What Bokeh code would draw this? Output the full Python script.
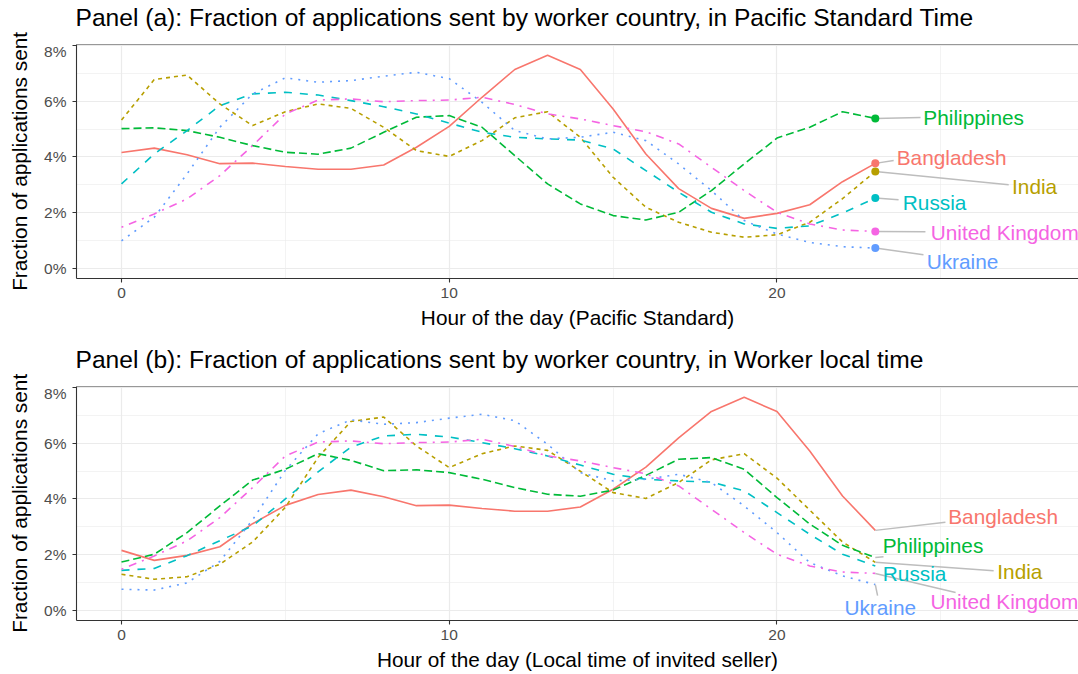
import math
from bokeh.plotting import figure
from bokeh.models import ColumnDataSource, Range1d, FixedTicker, PrintfTickFormatter, Span, Label
from bokeh.layouts import column, row
from bokeh.core.properties import value
from bokeh.embed import file_html
from bokeh.resources import INLINE

# ---------------- data ----------------
hours = list(range(24))
countries = ["Bangladesh", "India", "Philippines", "Russia", "Ukraine", "United Kingdom"]

# Panel (a): Pacific Standard Time (percent of applications)
bangladesh_pst = [4.16, 4.32, 4.08, 3.76, 3.78, 3.66, 3.56, 3.56, 3.71, 4.35, 5.10, 6.15,
                  7.15, 7.66, 7.15, 5.73, 4.11, 2.86, 2.15, 1.79, 1.97, 2.28, 3.11, 3.77]
india_pst = [5.33, 6.79, 6.95, 5.91, 5.13, 5.63, 5.91, 5.75, 5.07, 4.23, 4.02, 4.59,
             5.41, 5.63, 4.71, 3.27, 2.19, 1.65, 1.29, 1.11, 1.20, 1.65, 2.50, 3.48]
philippines_pst = [5.02, 5.05, 4.95, 4.71, 4.41, 4.17, 4.10, 4.32, 4.89, 5.43, 5.49, 5.07,
                   4.05, 3.03, 2.31, 1.89, 1.73, 2.01, 2.79, 3.75, 4.68, 5.07, 5.63, 5.39]
russia_pst = [3.03, 4.11, 4.95, 5.85, 6.27, 6.33, 6.23, 6.03, 5.81, 5.55, 5.22, 4.89,
              4.71, 4.65, 4.61, 4.29, 3.51, 2.73, 2.01, 1.59, 1.43, 1.52, 1.98, 2.52]
ukraine_pst = [0.98, 1.83, 3.39, 5.07, 6.27, 6.85, 6.69, 6.75, 6.91, 7.05, 6.82, 5.97,
               4.95, 4.65, 4.71, 4.89, 4.59, 3.75, 2.79, 1.71, 1.23, 0.92, 0.77, 0.72]
uk_pst = [1.47, 1.95, 2.49, 3.33, 4.41, 5.55, 6.05, 6.09, 5.99, 6.03, 6.05, 6.15,
          5.89, 5.55, 5.37, 5.13, 4.91, 4.47, 3.63, 2.79, 2.01, 1.59, 1.37, 1.32]

# Panel (b): worker local time (percent of applications)
bangladesh_local = [2.15, 1.79, 1.97, 2.28, 3.11, 3.77, 4.16, 4.32, 4.08, 3.76, 3.78, 3.66,
                    3.56, 3.56, 3.71, 4.35, 5.15, 6.20, 7.15, 7.66, 7.15, 5.73, 4.11, 2.87]
india_local = [1.29, 1.11, 1.20, 1.65, 2.45, 3.70, 5.50, 6.79, 6.95, 5.91, 5.13, 5.63,
               5.91, 5.75, 5.00, 4.23, 4.02, 4.59, 5.41, 5.63, 4.75, 3.60, 2.45, 1.72]
philippines_local = [1.73, 2.01, 2.79, 3.75, 4.68, 5.07, 5.63, 5.39, 5.02, 5.05, 4.95, 4.71,
                     4.41, 4.17, 4.10, 4.32, 4.85, 5.43, 5.49, 5.07, 4.05, 3.10, 2.33, 1.89]
russia_local = [1.43, 1.50, 1.96, 2.50, 3.03, 4.00, 4.98, 5.87, 6.27, 6.33, 6.23, 6.03,
                5.81, 5.55, 5.22, 4.89, 4.71, 4.65, 4.61, 4.29, 3.51, 2.73, 2.01, 1.59]
ukraine_local = [0.75, 0.72, 0.98, 1.75, 3.25, 5.03, 6.35, 6.85, 6.69, 6.75, 6.91, 7.05,
                 6.82, 5.97, 4.95, 4.65, 4.71, 4.89, 4.59, 3.75, 2.79, 1.71, 1.23, 0.92]
uk_local = [1.47, 1.95, 2.49, 3.33, 4.41, 5.55, 6.05, 6.09, 5.99, 6.03, 6.05, 6.15,
            5.89, 5.55, 5.37, 5.13, 4.91, 4.47, 3.63, 2.79, 2.01, 1.59, 1.37, 1.32]

x_ticks = [0, 10, 20]
y_ticks = [0, 2, 4, 6, 8]

# ---------------- styles / layout ----------------
colors = ["#F8766D", "#B79F00", "#00BA38", "#00BFC4", "#619CFF", "#F564E3"]
dashes = ["solid", "4 4", "8 4", "8 8", "2 6", "2 6 8 6"]
FONT = "Liberation Sans"
X0, X1 = -1.373, 29.2
Y0, Y1 = -0.375, 8.05
TOTAL_W, TOTAL_H = 1078, 674
YLAB_W = 36
W = TOTAL_W - YLAB_W
YLABEL = "Fraction of applications sent"

# label placements (centre x, centre y) and leader-line end points
labels_a = {
    "Bangladesh": (25.33, 3.99, 23.56, 3.87),
    "India": (27.86, 2.93, 27.07, 3.00),
    "Philippines": (26.00, 5.43, 24.38, 5.42),
    "Russia": (24.81, 2.35, 23.71, 2.46),
    "Ukraine": (25.66, 0.24, 24.47, 0.48),
    "United Kingdom": (26.95, 1.28, 24.53, 1.31),
}
labels_b = {
    "Bangladesh": (26.90, 3.36, 25.14, 3.16),
    "India": (27.41, 1.39, 26.61, 1.42),
    "Philippines": (24.76, 2.32, 23.25, 1.92),
    "Russia": (24.20, 1.31, None, None),
    "Ukraine": (23.15, 0.09, 23.07, 0.52),
    "United Kingdom": (26.94, 0.31, 25.45, 0.63),
}


def blank_figure(width, height):
    f = figure(width=width, height=height, output_backend="svg", toolbar_location=None,
               x_range=Range1d(0, width), y_range=Range1d(0, height),
               x_axis_type=None, y_axis_type=None,
               min_border_left=0, min_border_right=0, min_border_top=0, min_border_bottom=0,
               background_fill_color="white", border_fill_color="white",
               outline_line_color=None, frame_align=False)
    f.grid.visible = False
    return f


def make_title(text, height, y_mid_from_bottom):
    t = blank_figure(W, height)
    t.add_layout(Label(x=75 - YLAB_W, y=y_mid_from_bottom, text=text, text_font=FONT,
                       text_font_size="24.6px", text_color="black",
                       text_baseline="middle", text_align="left"))
    return t


def make_ylabels(centres_from_top):
    f = blank_figure(YLAB_W, TOTAL_H)
    for c in centres_from_top:
        f.add_layout(Label(x=19, y=TOTAL_H - c, text=YLABEL, text_font=FONT,
                           text_font_size="20.8px", text_color="black", angle=math.pi / 2,
                           text_baseline="middle", text_align="center"))
    return f


def make_panel(xlabel, series, labels, show_points, height, top, bottom):
    p = figure(width=W, height=height, output_backend="svg", toolbar_location=None,
               x_range=Range1d(X0, X1), y_range=Range1d(Y0, Y1),
               min_border_left=76 - YLAB_W, min_border_right=0, min_border_top=top,
               min_border_bottom=bottom, background_fill_color="white",
               border_fill_color="white", outline_line_color=None, frame_align=False)

    p.xaxis.ticker = FixedTicker(ticks=x_ticks, minor_ticks=[5, 15, 25])
    p.yaxis.ticker = FixedTicker(ticks=y_ticks, minor_ticks=[1, 3, 5, 7])
    p.yaxis.formatter = PrintfTickFormatter(format="%d%%")
    for ax in (p.xaxis, p.yaxis):
        ax.axis_line_color = "#333333"
        ax.axis_line_width = 1.1
        ax.major_tick_line_color = "#333333"
        ax.major_tick_line_width = 1.1
        ax.major_tick_out = 4
        ax.major_tick_in = 0
        ax.minor_tick_line_color = None
        ax.major_label_text_color = "#4D4D4D"
        ax.major_label_text_font = FONT
        ax.major_label_text_font_size = "15.5px"
        ax.axis_label_text_font = FONT
        ax.axis_label_text_font_size = "20.8px"
        ax.axis_label_text_font_style = "normal"
        ax.axis_label_text_color = "black"
    p.xaxis.major_label_standoff = 5
    p.xaxis.axis_label_standoff = 5
    p.yaxis.major_label_standoff = 6
    p.xaxis.axis_label = xlabel

    for g in (p.xgrid, p.ygrid):
        g.grid_line_color = "#EBEBEB"
        g.grid_line_width = 1.2
        g.minor_grid_line_color = "#EBEBEB"
        g.minor_grid_line_width = 0.6

    p.add_layout(Span(location=Y1, dimension="width", line_color="#333333", line_width=1.2))

    for name, vals, col, dash in zip(countries, series, colors, dashes):
        src = ColumnDataSource(dict(x=hours, y=vals))
        p.line("x", "y", source=src, line_color=col, line_width=1.6, line_dash=dash)

    seg = dict(x0=[], y0=[], x1=[], y1=[])
    for name, vals in zip(countries, series):
        lx, ly, ex, ey = labels[name]
        if ex is not None:
            seg["x0"].append(hours[-1]); seg["y0"].append(vals[-1])
            seg["x1"].append(ex); seg["y1"].append(ey)
    p.segment("x0", "y0", "x1", "y1", source=ColumnDataSource(seg),
              line_color="#BDBDBD", line_width=1.5)

    if show_points:
        p.scatter([hours[-1]] * len(series), [s[-1] for s in series], size=8,
                  color=colors, line_color=None)

    tsrc = ColumnDataSource(dict(x=[labels[c][0] for c in countries],
                                 y=[labels[c][1] for c in countries],
                                 t=countries, c=colors))
    p.text("x", "y", text="t", source=tsrc, text_color="c", text_align="center",
           text_baseline="middle", text_font=value(FONT), text_font_size="20.8px")
    return p


tA = make_title("Panel (a): Fraction of applications sent by worker country, in Pacific Standard Time",
                42, 24.7)
p1 = make_panel("Hour of the day (Pacific Standard)",
                [bangladesh_pst, india_pst, philippines_pst, russia_pst, ukraine_pst, uk_pst],
                labels_a, True, 299, 2, 63)
tB = make_title("Panel (b): Fraction of applications sent by worker country, in Worker local time",
                43, 25.2)
p2 = make_panel("Hour of the day (Local time of invited seller)",
                [bangladesh_local, india_local, philippines_local, russia_local, ukraine_local, uk_local],
                labels_b, False, 290, 2, 54)
ylabs = make_ylabels([160.9, 502.8])

layout = row(ylabs, column(tA, p1, tB, p2, spacing=0), spacing=0)
open("out.html", "w").write(file_html(layout, INLINE))
